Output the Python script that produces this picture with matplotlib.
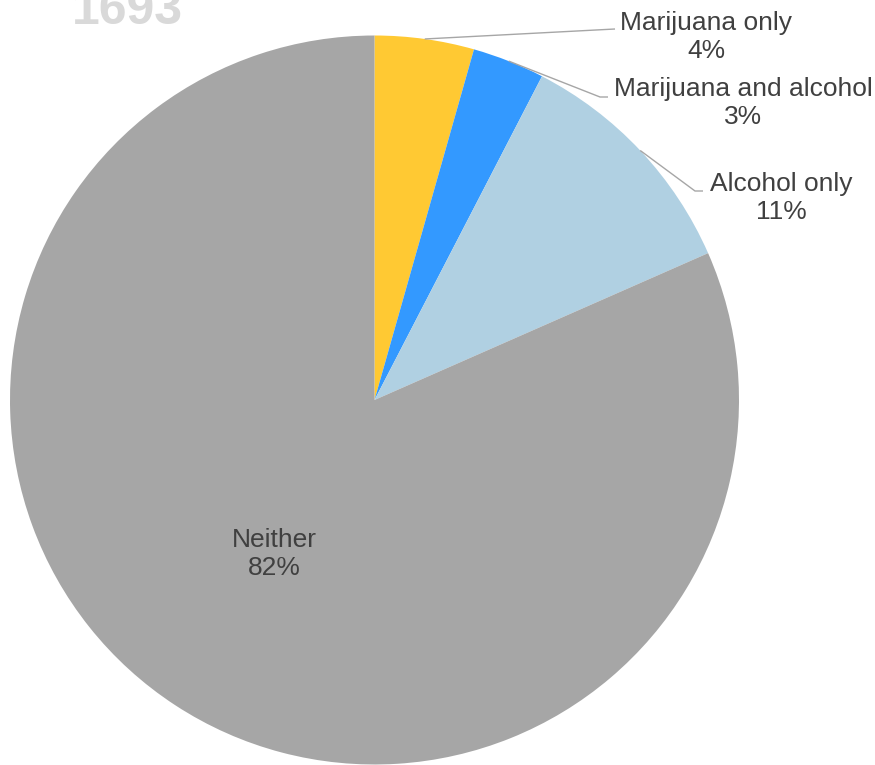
import numpy as np
import matplotlib
matplotlib.use("Agg")
import matplotlib.pyplot as plt

plt.rcParams["font.family"] = ["Liberation Sans", "DejaVu Sans"]

# Data
categories = ["Marijuana only", "Marijuana and alcohol", "Alcohol only", "Neither"]
shares = [4.4, 3.2, 10.8, 81.6]
colors = ["#FFC933", "#3399FF", "#B0D0E2", "#A6A6A6"]
title_text = "1693"

TEXT = "#404040"
LINE = "#A6A6A6"

W, H = 875, 765
R_PX = 364.5
CX, CY = 374.5, 400.0


def px(x, y):
    """pixel (from top-left) -> data coords where pie radius = 1"""
    return (x - CX) / R_PX, (CY - y) / R_PX


fig = plt.figure(figsize=(W / 100, H / 100), dpi=100)
ax = fig.add_axes([0, 0, 1, 1])

wedges, _ = ax.pie(shares, colors=colors, startangle=90, counterclock=False,
                   radius=1.0, wedgeprops=dict(linewidth=0))

ax.set_aspect("auto")
ax.set_xlim((0 - CX) / R_PX, (W - CX) / R_PX)
ax.set_ylim((CY - H) / R_PX, CY / R_PX)
ax.axis("off")

labels = [f"{c}\n{round(s):.0f}%" for c, s in zip(categories, shares)]

# outside labels: (elbow px, end px, text centre px)
outside = {
    0: (None, (615, 29), (706, 37)),
    1: ((600, 97), (608, 97), (743, 103)),
    2: ((695, 191), (703, 191), (781, 198)),
}

for i, w in enumerate(wedges):
    mid = np.deg2rad((w.theta1 + w.theta2) / 2)
    if i in outside:
        elbow, end, txt = outside[i]
        pts = [(np.cos(mid), np.sin(mid))]
        if elbow is not None:
            pts.append(px(*elbow))
        pts.append(px(*end))
        xs, ys = zip(*pts)
        ax.plot(xs, ys, color=LINE, lw=1.0, solid_capstyle="butt")
        tx, ty = px(*txt)
        ax.text(tx, ty, labels[i], ha="center", va="center", fontsize=19,
                color=TEXT, linespacing=1.2)
    else:
        r = 0.505
        ax.text(r * np.cos(mid), r * np.sin(mid), labels[i], ha="center",
                va="center", fontsize=19, color=TEXT, linespacing=1.2)

# cut-off title at the top
tx, ty = px(72, 24)
ax.text(tx, ty, title_text, ha="left", va="baseline", fontsize=36,
        fontweight="bold", color="#D9D9D9")

fig.savefig("out.png", dpi=100)
